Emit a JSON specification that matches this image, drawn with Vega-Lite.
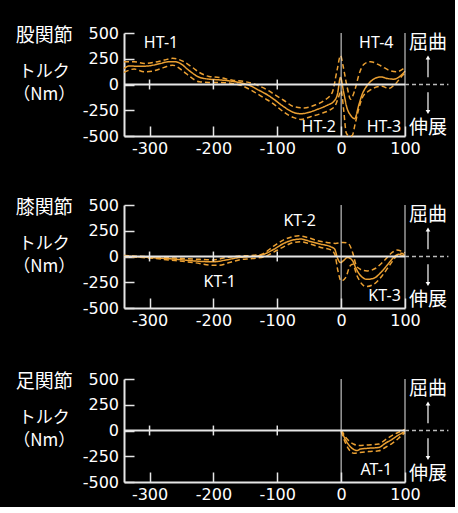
{
  "$schema": "https://vega.github.io/schema/vega-lite/v6.json",
  "background": "black",
  "padding": {"left": 13, "top": 25, "right": 5, "bottom": 5},
  "config": {
    "view": {"stroke": null},
    "axis": {"grid": false, "domainColor": "#E6E6E6", "domainWidth": 2, "tickColor": "#E6E6E6", "tickWidth": 1.5, "labelColor": "white", "labelFont": "DejaVu Sans", "labelFontSize": 16}
  },
  "datasets": {
    "curves": [
      {"p":1,"s":"mean","x":-340,"y":155},{"p":1,"s":"mean","x":-332,"y":180},{"p":1,"s":"mean","x":-316,"y":176},{"p":1,"s":"mean","x":-300,"y":182},{"p":1,"s":"mean","x":-285,"y":201},{"p":1,"s":"mean","x":-268,"y":222},{"p":1,"s":"mean","x":-260,"y":222},{"p":1,"s":"mean","x":-252,"y":205},{"p":1,"s":"mean","x":-238,"y":135},{"p":1,"s":"mean","x":-222,"y":70},{"p":1,"s":"mean","x":-207,"y":52},{"p":1,"s":"mean","x":-191,"y":45},{"p":1,"s":"mean","x":-175,"y":35},{"p":1,"s":"mean","x":-160,"y":20},{"p":1,"s":"mean","x":-144,"y":-7},{"p":1,"s":"mean","x":-129,"y":-55},{"p":1,"s":"mean","x":-113,"y":-110},{"p":1,"s":"mean","x":-105,"y":-145},{"p":1,"s":"mean","x":-90,"y":-215},{"p":1,"s":"mean","x":-74,"y":-272},{"p":1,"s":"mean","x":-63,"y":-284},{"p":1,"s":"mean","x":-53,"y":-274},{"p":1,"s":"mean","x":-37,"y":-241},{"p":1,"s":"mean","x":-22,"y":-202},{"p":1,"s":"mean","x":-11,"y":-160},{"p":1,"s":"mean","x":-6,"y":-100},{"p":1,"s":"mean","x":-1,"y":68},{"p":1,"s":"mean","x":4,"y":-78},{"p":1,"s":"mean","x":9,"y":-225},{"p":1,"s":"mean","x":15,"y":-300},{"p":1,"s":"mean","x":21,"y":-332},{"p":1,"s":"mean","x":28,"y":-192},{"p":1,"s":"mean","x":33,"y":-95},{"p":1,"s":"mean","x":41,"y":-7},{"p":1,"s":"mean","x":51,"y":52},{"p":1,"s":"mean","x":62,"y":74},{"p":1,"s":"mean","x":72,"y":59},{"p":1,"s":"mean","x":82,"y":52},{"p":1,"s":"mean","x":93,"y":84},{"p":1,"s":"mean","x":100,"y":130},
      {"p":1,"s":"upper","x":-340,"y":221},{"p":1,"s":"upper","x":-324,"y":221},{"p":1,"s":"upper","x":-308,"y":205},{"p":1,"s":"upper","x":-293,"y":215},{"p":1,"s":"upper","x":-277,"y":237},{"p":1,"s":"upper","x":-264,"y":254},{"p":1,"s":"upper","x":-248,"y":227},{"p":1,"s":"upper","x":-235,"y":176},{"p":1,"s":"upper","x":-222,"y":117},{"p":1,"s":"upper","x":-207,"y":78},{"p":1,"s":"upper","x":-191,"y":68},{"p":1,"s":"upper","x":-170,"y":42},{"p":1,"s":"upper","x":-149,"y":26},{"p":1,"s":"upper","x":-129,"y":-13},{"p":1,"s":"upper","x":-113,"y":-62},{"p":1,"s":"upper","x":-105,"y":-95},{"p":1,"s":"upper","x":-90,"y":-153},{"p":1,"s":"upper","x":-74,"y":-215},{"p":1,"s":"upper","x":-58,"y":-228},{"p":1,"s":"upper","x":-42,"y":-202},{"p":1,"s":"upper","x":-27,"y":-156},{"p":1,"s":"upper","x":-14,"y":-78},{"p":1,"s":"upper","x":-6,"y":150},{"p":1,"s":"upper","x":-1,"y":280},{"p":1,"s":"upper","x":3,"y":182},{"p":1,"s":"upper","x":9,"y":-13},{"p":1,"s":"upper","x":15,"y":-143},{"p":1,"s":"upper","x":21,"y":-62},{"p":1,"s":"upper","x":29,"y":117},{"p":1,"s":"upper","x":36,"y":198},{"p":1,"s":"upper","x":46,"y":221},{"p":1,"s":"upper","x":62,"y":182},{"p":1,"s":"upper","x":77,"y":133},{"p":1,"s":"upper","x":87,"y":123},{"p":1,"s":"upper","x":98,"y":156},{"p":1,"s":"upper","x":100,"y":165},
      {"p":1,"s":"lower","x":-340,"y":117},{"p":1,"s":"lower","x":-324,"y":150},{"p":1,"s":"lower","x":-308,"y":123},{"p":1,"s":"lower","x":-293,"y":133},{"p":1,"s":"lower","x":-277,"y":166},{"p":1,"s":"lower","x":-264,"y":188},{"p":1,"s":"lower","x":-248,"y":133},{"p":1,"s":"lower","x":-235,"y":68},{"p":1,"s":"lower","x":-222,"y":26},{"p":1,"s":"lower","x":-207,"y":20},{"p":1,"s":"lower","x":-191,"y":20},{"p":1,"s":"lower","x":-170,"y":10},{"p":1,"s":"lower","x":-155,"y":-13},{"p":1,"s":"lower","x":-139,"y":-62},{"p":1,"s":"lower","x":-121,"y":-130},{"p":1,"s":"lower","x":-105,"y":-192},{"p":1,"s":"lower","x":-90,"y":-267},{"p":1,"s":"lower","x":-74,"y":-322},{"p":1,"s":"lower","x":-63,"y":-339},{"p":1,"s":"lower","x":-48,"y":-313},{"p":1,"s":"lower","x":-32,"y":-283},{"p":1,"s":"lower","x":-16,"y":-241},{"p":1,"s":"lower","x":-9,"y":-202},{"p":1,"s":"lower","x":-4,"y":-120},{"p":1,"s":"lower","x":0,"y":-60},{"p":1,"s":"lower","x":4,"y":-250},{"p":1,"s":"lower","x":8,"y":-470},{"p":1,"s":"lower","x":12,"y":-498},{"p":1,"s":"lower","x":17,"y":-498},{"p":1,"s":"lower","x":22,"y":-380},{"p":1,"s":"lower","x":27,"y":-250},{"p":1,"s":"lower","x":33,"y":-131},{"p":1,"s":"lower","x":43,"y":-65},{"p":1,"s":"lower","x":64,"y":-17},{"p":1,"s":"lower","x":74,"y":-39},{"p":1,"s":"lower","x":85,"y":6},{"p":1,"s":"lower","x":98,"y":98},{"p":1,"s":"lower","x":100,"y":105},
      {"p":2,"s":"mean","x":-340,"y":5},{"p":2,"s":"mean","x":-300,"y":-10},{"p":2,"s":"mean","x":-260,"y":-26},{"p":2,"s":"mean","x":-230,"y":-43},{"p":2,"s":"mean","x":-200,"y":-52},{"p":2,"s":"mean","x":-180,"y":-33},{"p":2,"s":"mean","x":-160,"y":-10},{"p":2,"s":"mean","x":-140,"y":0},{"p":2,"s":"mean","x":-125,"y":13},{"p":2,"s":"mean","x":-105,"y":71},{"p":2,"s":"mean","x":-90,"y":127},{"p":2,"s":"mean","x":-74,"y":162},{"p":2,"s":"mean","x":-63,"y":169},{"p":2,"s":"mean","x":-48,"y":146},{"p":2,"s":"mean","x":-32,"y":120},{"p":2,"s":"mean","x":-16,"y":94},{"p":2,"s":"mean","x":-10,"y":71},{"p":2,"s":"mean","x":-6,"y":-10},{"p":2,"s":"mean","x":-1,"y":-59},{"p":2,"s":"mean","x":3,"y":-43},{"p":2,"s":"mean","x":10,"y":-10},{"p":2,"s":"mean","x":17,"y":-33},{"p":2,"s":"mean","x":24,"y":-124},{"p":2,"s":"mean","x":30,"y":-183},{"p":2,"s":"mean","x":41,"y":-222},{"p":2,"s":"mean","x":51,"y":-212},{"p":2,"s":"mean","x":62,"y":-156},{"p":2,"s":"mean","x":72,"y":-85},{"p":2,"s":"mean","x":82,"y":-10},{"p":2,"s":"mean","x":90,"y":22},{"p":2,"s":"mean","x":98,"y":6},{"p":2,"s":"mean","x":100,"y":5},
      {"p":2,"s":"upper","x":-340,"y":10},{"p":2,"s":"upper","x":-300,"y":-3},{"p":2,"s":"upper","x":-260,"y":-15},{"p":2,"s":"upper","x":-230,"y":-25},{"p":2,"s":"upper","x":-200,"y":-33},{"p":2,"s":"upper","x":-180,"y":-10},{"p":2,"s":"upper","x":-160,"y":5},{"p":2,"s":"upper","x":-140,"y":10},{"p":2,"s":"upper","x":-125,"y":20},{"p":2,"s":"upper","x":-105,"y":104},{"p":2,"s":"upper","x":-90,"y":162},{"p":2,"s":"upper","x":-74,"y":195},{"p":2,"s":"upper","x":-66,"y":201},{"p":2,"s":"upper","x":-53,"y":185},{"p":2,"s":"upper","x":-37,"y":153},{"p":2,"s":"upper","x":-22,"y":137},{"p":2,"s":"upper","x":-9,"y":127},{"p":2,"s":"upper","x":3,"y":137},{"p":2,"s":"upper","x":11,"y":127},{"p":2,"s":"upper","x":18,"y":39},{"p":2,"s":"upper","x":24,"y":-92},{"p":2,"s":"upper","x":30,"y":-124},{"p":2,"s":"upper","x":41,"y":-140},{"p":2,"s":"upper","x":54,"y":-114},{"p":2,"s":"upper","x":67,"y":-43},{"p":2,"s":"upper","x":80,"y":39},{"p":2,"s":"upper","x":87,"y":62},{"p":2,"s":"upper","x":95,"y":50},{"p":2,"s":"upper","x":100,"y":35},
      {"p":2,"s":"lower","x":-340,"y":0},{"p":2,"s":"lower","x":-300,"y":-15},{"p":2,"s":"lower","x":-260,"y":-40},{"p":2,"s":"lower","x":-230,"y":-60},{"p":2,"s":"lower","x":-200,"y":-85},{"p":2,"s":"lower","x":-191,"y":-85},{"p":2,"s":"lower","x":-175,"y":-59},{"p":2,"s":"lower","x":-160,"y":-33},{"p":2,"s":"lower","x":-139,"y":-20},{"p":2,"s":"lower","x":-119,"y":0},{"p":2,"s":"lower","x":-105,"y":45},{"p":2,"s":"lower","x":-90,"y":94},{"p":2,"s":"lower","x":-74,"y":137},{"p":2,"s":"lower","x":-63,"y":143},{"p":2,"s":"lower","x":-48,"y":120},{"p":2,"s":"lower","x":-32,"y":88},{"p":2,"s":"lower","x":-16,"y":64},{"p":2,"s":"lower","x":-10,"y":22},{"p":2,"s":"lower","x":-5,"y":-140},{"p":2,"s":"lower","x":0,"y":-238},{"p":2,"s":"lower","x":7,"y":-205},{"p":2,"s":"lower","x":14,"y":-92},{"p":2,"s":"lower","x":18,"y":-75},{"p":2,"s":"lower","x":25,"y":-189},{"p":2,"s":"lower","x":33,"y":-270},{"p":2,"s":"lower","x":38,"y":-293},{"p":2,"s":"lower","x":51,"y":-270},{"p":2,"s":"lower","x":64,"y":-189},{"p":2,"s":"lower","x":77,"y":-75},{"p":2,"s":"lower","x":87,"y":6},{"p":2,"s":"lower","x":95,"y":32},{"p":2,"s":"lower","x":100,"y":6},
      {"p":3,"s":"mean","x":0,"y":0},{"p":3,"s":"mean","x":2,"y":-26},{"p":3,"s":"mean","x":7,"y":-92},{"p":3,"s":"mean","x":12,"y":-140},{"p":3,"s":"mean","x":20,"y":-185},{"p":3,"s":"mean","x":25,"y":-195},{"p":3,"s":"mean","x":30,"y":-180},{"p":3,"s":"mean","x":43,"y":-172},{"p":3,"s":"mean","x":59,"y":-165},{"p":3,"s":"mean","x":69,"y":-124},{"p":3,"s":"mean","x":80,"y":-85},{"p":3,"s":"mean","x":90,"y":-43},{"p":3,"s":"mean","x":98,"y":-15},{"p":3,"s":"mean","x":100,"y":-5},
      {"p":3,"s":"upper","x":0,"y":0},{"p":3,"s":"upper","x":2,"y":-15},{"p":3,"s":"upper","x":7,"y":-65},{"p":3,"s":"upper","x":12,"y":-100},{"p":3,"s":"upper","x":20,"y":-134},{"p":3,"s":"upper","x":28,"y":-145},{"p":3,"s":"upper","x":43,"y":-140},{"p":3,"s":"upper","x":59,"y":-132},{"p":3,"s":"upper","x":69,"y":-90},{"p":3,"s":"upper","x":80,"y":-48},{"p":3,"s":"upper","x":90,"y":-17},{"p":3,"s":"upper","x":98,"y":5},{"p":3,"s":"upper","x":100,"y":10},
      {"p":3,"s":"lower","x":0,"y":-10},{"p":3,"s":"lower","x":2,"y":-43},{"p":3,"s":"lower","x":7,"y":-124},{"p":3,"s":"lower","x":12,"y":-182},{"p":3,"s":"lower","x":20,"y":-222},{"p":3,"s":"lower","x":28,"y":-215},{"p":3,"s":"lower","x":43,"y":-205},{"p":3,"s":"lower","x":59,"y":-197},{"p":3,"s":"lower","x":69,"y":-165},{"p":3,"s":"lower","x":80,"y":-124},{"p":3,"s":"lower","x":90,"y":-75},{"p":3,"s":"lower","x":98,"y":-30},{"p":3,"s":"lower","x":100,"y":-20}
    ],
    "ann": [
      {"p":1,"t":"HT-1","x":-282,"y":403},{"p":1,"t":"HT-4","x":55,"y":406},{"p":1,"t":"HT-2","x":-35,"y":-417},{"p":1,"t":"HT-3","x":67,"y":-417},
      {"p":2,"t":"KT-2","x":-65,"y":345},{"p":2,"t":"KT-1","x":-190,"y":-251},{"p":2,"t":"KT-3","x":68,"y":-386},
      {"p":3,"t":"AT-1","x":55,"y":-388}
    ],
    "side": [
      {"p":1,"t":"股関節","x":-465,"y":475,"f":19},{"p":2,"t":"膝関節","x":-465,"y":475,"f":19},{"p":3,"t":"足関節","x":-465,"y":475,"f":19},
      {"p":0,"t":"トルク","x":-465,"y":124,"f":17},{"p":0,"t":"（Nm）","x":-465,"y":-104,"f":17},
      {"p":0,"t":"屈曲","x":136,"y":400,"f":19},{"p":0,"t":"伸展","x":136,"y":-420,"f":19}
    ],
    "zero": [{"y":0}],
    "vlines": [{"x":0},{"x":100}],
    "zticks": [{"x":-300,"y":-48,"y2":48},{"x":-200,"y":-48,"y2":48},{"x":-100,"y":-48,"y2":48}],
    "ext": [{"x":100,"x2":168,"y":0}],
    "shafts": [{"x":136,"y":70,"y2":255},{"x":136,"y":-75,"y2":-260}],
    "heads": [{"x":136,"y":262,"sh":"triangle-up"},{"x":136,"y":-267,"sh":"triangle-down"}]
  },
  "vconcat": [
    {
      "vconcat": [
        {
          "width": 281, "height": 103,
          "layer": [
            {"data": {"name": "curves"}, "transform": [{"filter": "datum.p == 1"}], "mark": {"type": "line", "color": "#EBA032", "strokeWidth": 1.5, "interpolate": "monotone"}, "encoding": {"x": {"field": "x", "type": "quantitative", "title": null, "scale": {"domain": [-340, 100], "nice": false, "zero": false}, "axis": {"tickCount": 5, "tickSize": -10, "labelPadding": 14, "labelFlush": false, "labelExpr": "replace(datum.label, '\u2212', '-')"}}, "y": {"field": "y", "type": "quantitative", "title": null, "scale": {"domain": [-500, 500], "nice": false}, "axis": {"tickCount": 20, "tickSize": -10, "labelPadding": 15.5, "labelFlush": false, "labelOverlap": false, "labelExpr": "datum.value % 250 == 0 ? replace(datum.label, '\u2212', '-') : ''", "tickOpacity": {"condition": {"test": "datum.value % 250 == 0", "value": 1}, "value": 0}}}, "strokeDash": {"field": "s", "type": "nominal", "scale": {"domain": ["mean", "upper", "lower"], "range": [[1, 0], [5, 3], [5, 3]]}, "legend": null}}},
            {"data": {"name": "vlines"}, "mark": {"type": "rule", "color": "#E6E6E6", "strokeWidth": 1}, "encoding": {"x": {"field": "x", "type": "quantitative"}}},
            {"data": {"name": "zero"}, "mark": {"type": "rule", "color": "#E6E6E6", "strokeWidth": 2}, "encoding": {"y": {"field": "y", "type": "quantitative"}}},
            {"data": {"name": "ext"}, "mark": {"type": "rule", "color": "#BBBBBB", "strokeWidth": 1.5, "strokeDash": [4, 3]}, "encoding": {"x": {"field": "x", "type": "quantitative"}, "x2": {"field": "x2"}, "y": {"field": "y", "type": "quantitative"}}},
            {"data": {"name": "zticks"}, "mark": {"type": "rule", "color": "#E6E6E6", "strokeWidth": 1.5}, "encoding": {"x": {"field": "x", "type": "quantitative"}, "y": {"field": "y", "type": "quantitative"}, "y2": {"field": "y2"}}},
            {"data": {"name": "ann"}, "transform": [{"filter": "datum.p == 1"}], "mark": {"type": "text", "color": "white", "font": "Noto Sans", "fontSize": 16, "align": "center", "baseline": "middle"}, "encoding": {"x": {"field": "x", "type": "quantitative"}, "y": {"field": "y", "type": "quantitative"}, "text": {"field": "t"}}},
            {"data": {"name": "side"}, "transform": [{"filter": "datum.p == 1 || datum.p == 0"}], "mark": {"type": "text", "color": "white", "font": "Noto Sans CJK JP", "align": "center", "baseline": "middle"}, "encoding": {"x": {"field": "x", "type": "quantitative"}, "y": {"field": "y", "type": "quantitative"}, "text": {"field": "t"}, "size": {"field": "f", "type": "quantitative", "scale": null}}},
            {"data": {"name": "shafts"}, "mark": {"type": "rule", "color": "white", "strokeWidth": 1.2}, "encoding": {"x": {"field": "x", "type": "quantitative"}, "y": {"field": "y", "type": "quantitative"}, "y2": {"field": "y2"}}},
            {"data": {"name": "heads"}, "mark": {"type": "point", "filled": true, "color": "white", "size": 22, "opacity": 1}, "encoding": {"x": {"field": "x", "type": "quantitative"}, "y": {"field": "y", "type": "quantitative"}, "shape": {"field": "sh", "type": "nominal", "scale": null}}}
          ]
        },
        {
          "width": 281, "height": 103,
          "layer": [
            {"data": {"name": "curves"}, "transform": [{"filter": "datum.p == 2"}], "mark": {"type": "line", "color": "#EBA032", "strokeWidth": 1.5, "interpolate": "monotone"}, "encoding": {"x": {"field": "x", "type": "quantitative", "title": null, "scale": {"domain": [-340, 100], "nice": false, "zero": false}, "axis": {"tickCount": 5, "tickSize": -10, "labelPadding": 14, "labelFlush": false, "labelExpr": "replace(datum.label, '\u2212', '-')"}}, "y": {"field": "y", "type": "quantitative", "title": null, "scale": {"domain": [-500, 500], "nice": false}, "axis": {"tickCount": 20, "tickSize": -10, "labelPadding": 15.5, "labelFlush": false, "labelOverlap": false, "labelExpr": "datum.value % 250 == 0 ? replace(datum.label, '\u2212', '-') : ''", "tickOpacity": {"condition": {"test": "datum.value % 250 == 0", "value": 1}, "value": 0}}}, "strokeDash": {"field": "s", "type": "nominal", "scale": {"domain": ["mean", "upper", "lower"], "range": [[1, 0], [5, 3], [5, 3]]}, "legend": null}}},
            {"data": {"name": "vlines"}, "mark": {"type": "rule", "color": "#E6E6E6", "strokeWidth": 1}, "encoding": {"x": {"field": "x", "type": "quantitative"}}},
            {"data": {"name": "zero"}, "mark": {"type": "rule", "color": "#E6E6E6", "strokeWidth": 2}, "encoding": {"y": {"field": "y", "type": "quantitative"}}},
            {"data": {"name": "ext"}, "mark": {"type": "rule", "color": "#BBBBBB", "strokeWidth": 1.5, "strokeDash": [4, 3]}, "encoding": {"x": {"field": "x", "type": "quantitative"}, "x2": {"field": "x2"}, "y": {"field": "y", "type": "quantitative"}}},
            {"data": {"name": "zticks"}, "mark": {"type": "rule", "color": "#E6E6E6", "strokeWidth": 1.5}, "encoding": {"x": {"field": "x", "type": "quantitative"}, "y": {"field": "y", "type": "quantitative"}, "y2": {"field": "y2"}}},
            {"data": {"name": "ann"}, "transform": [{"filter": "datum.p == 2"}], "mark": {"type": "text", "color": "white", "font": "Noto Sans", "fontSize": 16, "align": "center", "baseline": "middle"}, "encoding": {"x": {"field": "x", "type": "quantitative"}, "y": {"field": "y", "type": "quantitative"}, "text": {"field": "t"}}},
            {"data": {"name": "side"}, "transform": [{"filter": "datum.p == 2 || datum.p == 0"}], "mark": {"type": "text", "color": "white", "font": "Noto Sans CJK JP", "align": "center", "baseline": "middle"}, "encoding": {"x": {"field": "x", "type": "quantitative"}, "y": {"field": "y", "type": "quantitative"}, "text": {"field": "t"}, "size": {"field": "f", "type": "quantitative", "scale": null}}},
            {"data": {"name": "shafts"}, "mark": {"type": "rule", "color": "white", "strokeWidth": 1.2}, "encoding": {"x": {"field": "x", "type": "quantitative"}, "y": {"field": "y", "type": "quantitative"}, "y2": {"field": "y2"}}},
            {"data": {"name": "heads"}, "mark": {"type": "point", "filled": true, "color": "white", "size": 22, "opacity": 1}, "encoding": {"x": {"field": "x", "type": "quantitative"}, "y": {"field": "y", "type": "quantitative"}, "shape": {"field": "sh", "type": "nominal", "scale": null}}}
          ]
        }
      ],
      "spacing": 41
    },
    {
      "width": 281, "height": 103,
      "layer": [
        {"data": {"name": "curves"}, "transform": [{"filter": "datum.p == 3"}], "mark": {"type": "line", "color": "#EBA032", "strokeWidth": 1.5, "interpolate": "monotone"}, "encoding": {"x": {"field": "x", "type": "quantitative", "title": null, "scale": {"domain": [-340, 100], "nice": false, "zero": false}, "axis": {"tickCount": 5, "tickSize": -10, "labelPadding": 14, "labelFlush": false, "labelExpr": "replace(datum.label, '\u2212', '-')"}}, "y": {"field": "y", "type": "quantitative", "title": null, "scale": {"domain": [-500, 500], "nice": false}, "axis": {"tickCount": 20, "tickSize": -10, "labelPadding": 15.5, "labelFlush": false, "labelOverlap": false, "labelExpr": "datum.value % 250 == 0 ? replace(datum.label, '\u2212', '-') : ''", "tickOpacity": {"condition": {"test": "datum.value % 250 == 0", "value": 1}, "value": 0}}}, "strokeDash": {"field": "s", "type": "nominal", "scale": {"domain": ["mean", "upper", "lower"], "range": [[1, 0], [5, 3], [5, 3]]}, "legend": null}}},
        {"data": {"name": "vlines"}, "mark": {"type": "rule", "color": "#E6E6E6", "strokeWidth": 1}, "encoding": {"x": {"field": "x", "type": "quantitative"}}},
        {"data": {"name": "zero"}, "mark": {"type": "rule", "color": "#E6E6E6", "strokeWidth": 2}, "encoding": {"y": {"field": "y", "type": "quantitative"}}},
        {"data": {"name": "ext"}, "mark": {"type": "rule", "color": "#BBBBBB", "strokeWidth": 1.5, "strokeDash": [4, 3]}, "encoding": {"x": {"field": "x", "type": "quantitative"}, "x2": {"field": "x2"}, "y": {"field": "y", "type": "quantitative"}}},
        {"data": {"name": "zticks"}, "mark": {"type": "rule", "color": "#E6E6E6", "strokeWidth": 1.5}, "encoding": {"x": {"field": "x", "type": "quantitative"}, "y": {"field": "y", "type": "quantitative"}, "y2": {"field": "y2"}}},
        {"data": {"name": "ann"}, "transform": [{"filter": "datum.p == 3"}], "mark": {"type": "text", "color": "white", "font": "Noto Sans", "fontSize": 16, "align": "center", "baseline": "middle"}, "encoding": {"x": {"field": "x", "type": "quantitative"}, "y": {"field": "y", "type": "quantitative"}, "text": {"field": "t"}}},
        {"data": {"name": "side"}, "transform": [{"filter": "datum.p == 3 || datum.p == 0"}], "mark": {"type": "text", "color": "white", "font": "Noto Sans CJK JP", "align": "center", "baseline": "middle"}, "encoding": {"x": {"field": "x", "type": "quantitative"}, "y": {"field": "y", "type": "quantitative"}, "text": {"field": "t"}, "size": {"field": "f", "type": "quantitative", "scale": null}}},
        {"data": {"name": "shafts"}, "mark": {"type": "rule", "color": "white", "strokeWidth": 1.2}, "encoding": {"x": {"field": "x", "type": "quantitative"}, "y": {"field": "y", "type": "quantitative"}, "y2": {"field": "y2"}}},
        {"data": {"name": "heads"}, "mark": {"type": "point", "filled": true, "color": "white", "size": 22, "opacity": 1}, "encoding": {"x": {"field": "x", "type": "quantitative"}, "y": {"field": "y", "type": "quantitative"}, "shape": {"field": "sh", "type": "nominal", "scale": null}}}
      ]
    }
  ],
  "spacing": 43
}
